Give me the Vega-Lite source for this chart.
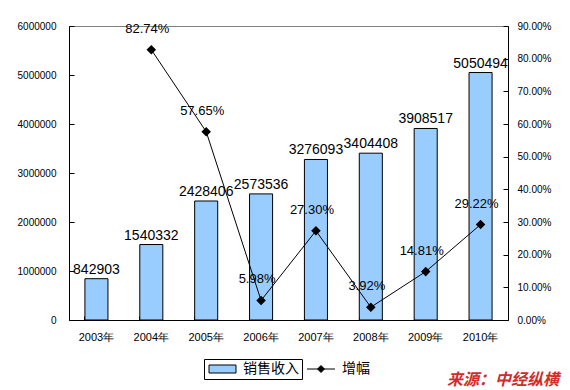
{
  "$schema": "https://vega.github.io/schema/vega-lite/v6.json",
  "width": 439,
  "height": 294,
  "autosize": {"type": "none"},
  "padding": {"left": 69, "top": 26, "right": 62, "bottom": 70},
  "background": "white",
  "title": {
    "text": "来源：中经纵横",
    "orient": "bottom",
    "anchor": "end",
    "frame": "bounds",
    "font": "Noto Sans CJK SC",
    "fontSize": 16,
    "fontWeight": "bold",
    "fontStyle": "italic",
    "color": "#D42A2A",
    "offset": -8,
    "dx": 8
  },
  "config": {
    "view": {"stroke": "#808080", "strokeWidth": 1},
    "axis": {
      "grid": false,
      "domainColor": "black",
      "tickColor": "black",
      "labelColor": "black",
      "labelFont": "Liberation Sans",
      "titleFont": "Liberation Sans",
      "labelOverlap": false
    },
    "legend": {
      "labelFont": "Noto Sans CJK SC",
      "labelFontSize": 14,
      "labelColor": "black",
      "labelLimit": 400,
      "padding": 3,
      "direction": "horizontal"
    }
  },
  "data": {
    "values": [
      {"year": "2003年", "revenue": 842903, "growth": null},
      {"year": "2004年", "revenue": 1540332, "growth": 0.8274},
      {"year": "2005年", "revenue": 2428406, "growth": 0.5765},
      {"year": "2006年", "revenue": 2573536, "growth": 0.0598},
      {"year": "2007年", "revenue": 3276093, "growth": 0.2730},
      {"year": "2008年", "revenue": 3404408, "growth": 0.0392},
      {"year": "2009年", "revenue": 3908517, "growth": 0.1481},
      {"year": "2010年", "revenue": 5050494, "growth": 0.2922}
    ]
  },
  "encoding": {
    "x": {
      "field": "year",
      "type": "nominal",
      "sort": null,
      "scale": {"paddingInner": 0.58, "paddingOuter": 0.29},
      "axis": {
        "title": null,
        "labelAngle": 0,
        "labelFontSize": 11,
        "labelPadding": 15,
        "tickSize": -4,
        "bandPosition": 0,
        "domainWidth": 1
      }
    }
  },
  "layer": [
    {
      "encoding": {
        "y": {
          "field": "revenue",
          "type": "quantitative",
          "scale": {"domain": [0, 6000000]},
          "axis": {
            "title": null,
            "values": [0, 1000000, 2000000, 3000000, 4000000, 5000000, 6000000],
            "format": "d",
            "labelFontSize": 10,
            "tickSize": -5,
            "labelPadding": 18,
            "labelOverlap": false
          }
        }
      },
      "layer": [
        {
          "mark": {"type": "bar", "stroke": "black", "strokeWidth": 1},
          "encoding": {
            "fill": {
              "datum": "销售收入",
              "scale": {"domain": ["销售收入"], "range": ["#99CCFF"]},
              "legend": {
                "title": null,
                "orient": "none",
                "legendX": 135,
                "legendY": 333,
                "strokeColor": "black",
                "symbolType": "M-1,-0.8H4.4V0.8H-1Z",
                "symbolSize": 100,
                "symbolStrokeColor": "black",
                "symbolStrokeWidth": 1,
                "labelOffset": 22,
                "labelExpr": "datum.label + '\u3000\u3000\u3000\u3000\u3000'"
              }
            }
          }
        },
        {
          "mark": {"type": "text", "baseline": "bottom", "dy": -2, "font": "Liberation Sans", "fontSize": 14, "color": "black"},
          "encoding": {
            "text": {"field": "revenue", "type": "quantitative", "format": "d"}
          }
        }
      ]
    },
    {
      "encoding": {
        "y": {
          "field": "growth",
          "type": "quantitative",
          "scale": {"domain": [0, 0.9]},
          "axis": {
            "title": null,
            "orient": "right",
            "values": [0, 0.1, 0.2, 0.3, 0.4, 0.5, 0.6, 0.7, 0.8, 0.9],
            "format": ".2%",
            "labelFontSize": 10,
            "tickSize": -5,
            "labelPadding": 14,
            "labelOverlap": false
          }
        }
      },
      "layer": [
        {
          "mark": {"type": "line", "strokeWidth": 1, "point": {"shape": "diamond", "filled": true, "size": 45, "color": "black"}},
          "encoding": {
            "stroke": {
              "datum": "增幅",
              "scale": {"domain": ["增幅"], "range": ["black"]},
              "legend": {
                "title": null,
                "orient": "none",
                "legendX": 233,
                "legendY": 333,
                "symbolType": "M-1,0H4.6M1.8,-0.7L2.5,0L1.8,0.7L1.1,0Z",
                "symbolSize": 100,
                "symbolFillColor": "black",
                "symbolStrokeWidth": 1,
                "labelOffset": 23
              }
            }
          }
        },
        {
          "mark": {"type": "text", "baseline": "middle", "dy": -21, "dx": -4, "font": "Liberation Sans", "fontSize": 13, "color": "black"},
          "encoding": {
            "text": {"field": "growth", "type": "quantitative", "format": ".2%"}
          }
        }
      ]
    }
  ],
  "resolve": {"scale": {"y": "independent"}}
}
